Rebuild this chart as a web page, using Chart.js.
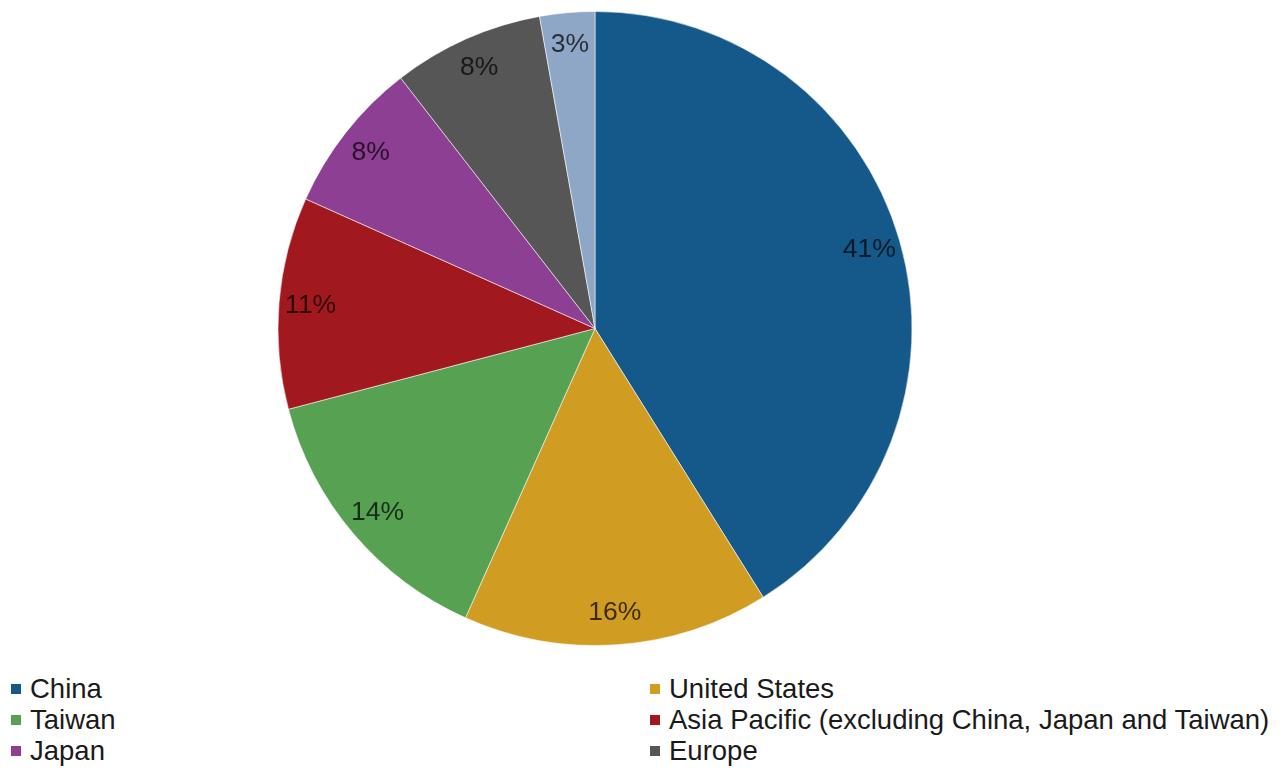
<!DOCTYPE html>
<html>
<head>
<meta charset="utf-8">
<script src="https://cdn.jsdelivr.net/npm/chart.js@4"></script>
<style>
  html, body { margin: 0; padding: 0; background: #fff; overflow: hidden; }
  body { width: 1283px; height: 769px; position: relative; font-family: "Liberation Sans", Arial, sans-serif; }
  #wrap { position: absolute; left: 0; top: 0; width: 1283px; height: 660px; }
  #legend { position: absolute; left: 0; top: 673px; width: 1283px; }
  .item { position: absolute; font-size: 27.5px; color: #1a1a1a; white-space: nowrap; line-height: 32px; }
  .item span.box { display: inline-block; width: 10px; height: 10px; margin-right: 9px; vertical-align: 4px; }
</style>
</head>
<body>
<div id="wrap"><canvas id="chart"></canvas></div>
<div id="legend"></div>
<script>
'use strict'

// shares by region, clockwise from 12 o'clock
const regions = ['China', 'United States', 'Taiwan', 'Asia Pacific (excluding China, Japan and Taiwan)', 'Japan', 'Europe', 'Other']
const shares = [41.1, 15.6, 14.2, 10.8, 7.8, 7.7, 2.8]
const colours = ['#14598a', '#d09c22', '#57a153', '#a1191f', '#8d3f94', '#565656', '#8ea7c7']

// percent labels on the slices
const sliceLabels = {
    id: 'sliceLabels',
    afterDatasetsDraw(chart) {
        const ctx = chart.ctx
        const meta = chart.getDatasetMeta(0)
        const data = chart.data.datasets[0].data
        const total = data.reduce((a, b) => a + b, 0)
        ctx.save()
        ctx.font = '26.5px "Liberation Sans", Arial, sans-serif'
        ctx.fillStyle = 'rgba(0,0,0,0.72)'
        ctx.textAlign = 'center'
        ctx.textBaseline = 'middle'
        meta.data.forEach((arc, i) => {
            const p = arc.getProps(['x', 'y', 'startAngle', 'endAngle', 'outerRadius'], true)
            const mid = (p.startAngle + p.endAngle) / 2
            const r = p.outerRadius * 0.9
            const txt = Math.round(data[i] / total * 100) + '%'
            ctx.fillText(txt, p.x + Math.cos(mid) * r, p.y + Math.sin(mid) * r)
        })
        ctx.restore()
    }
}

const ctx = document.getElementById('chart').getContext('2d')
const myChart = new Chart(ctx, {
    type: 'pie',
    data: {
        labels: regions,
        datasets: [{
            data: shares,
            backgroundColor: colours,
            borderColor: 'rgba(255,255,255,0.55)',
            borderWidth: 1
        }]
    },
    options: {
        responsive: true,
        maintainAspectRatio: false,
        animation: false,
        layout: { padding: { left: 0, right: 93, top: 11, bottom: 14 } },
        plugins: {
            legend: { display: false },
            title: { display: false },
            tooltip: { enabled: false }
        }
    },
    plugins: [sliceLabels]
})

// two column legend, filled row by row
const legend = document.getElementById('legend')
regions.forEach((name, i) => {
    const div = document.createElement('div')
    div.className = 'item'
    div.style.left = (i % 2 == 0 ? 11 : 650) + 'px'
    div.style.top = (Math.floor(i / 2) * 31) + 'px'
    div.innerHTML = '<span class="box" style="background:' + colours[i] + '"></span>' + name
    legend.appendChild(div)
})
</script>
</body>
</html>
